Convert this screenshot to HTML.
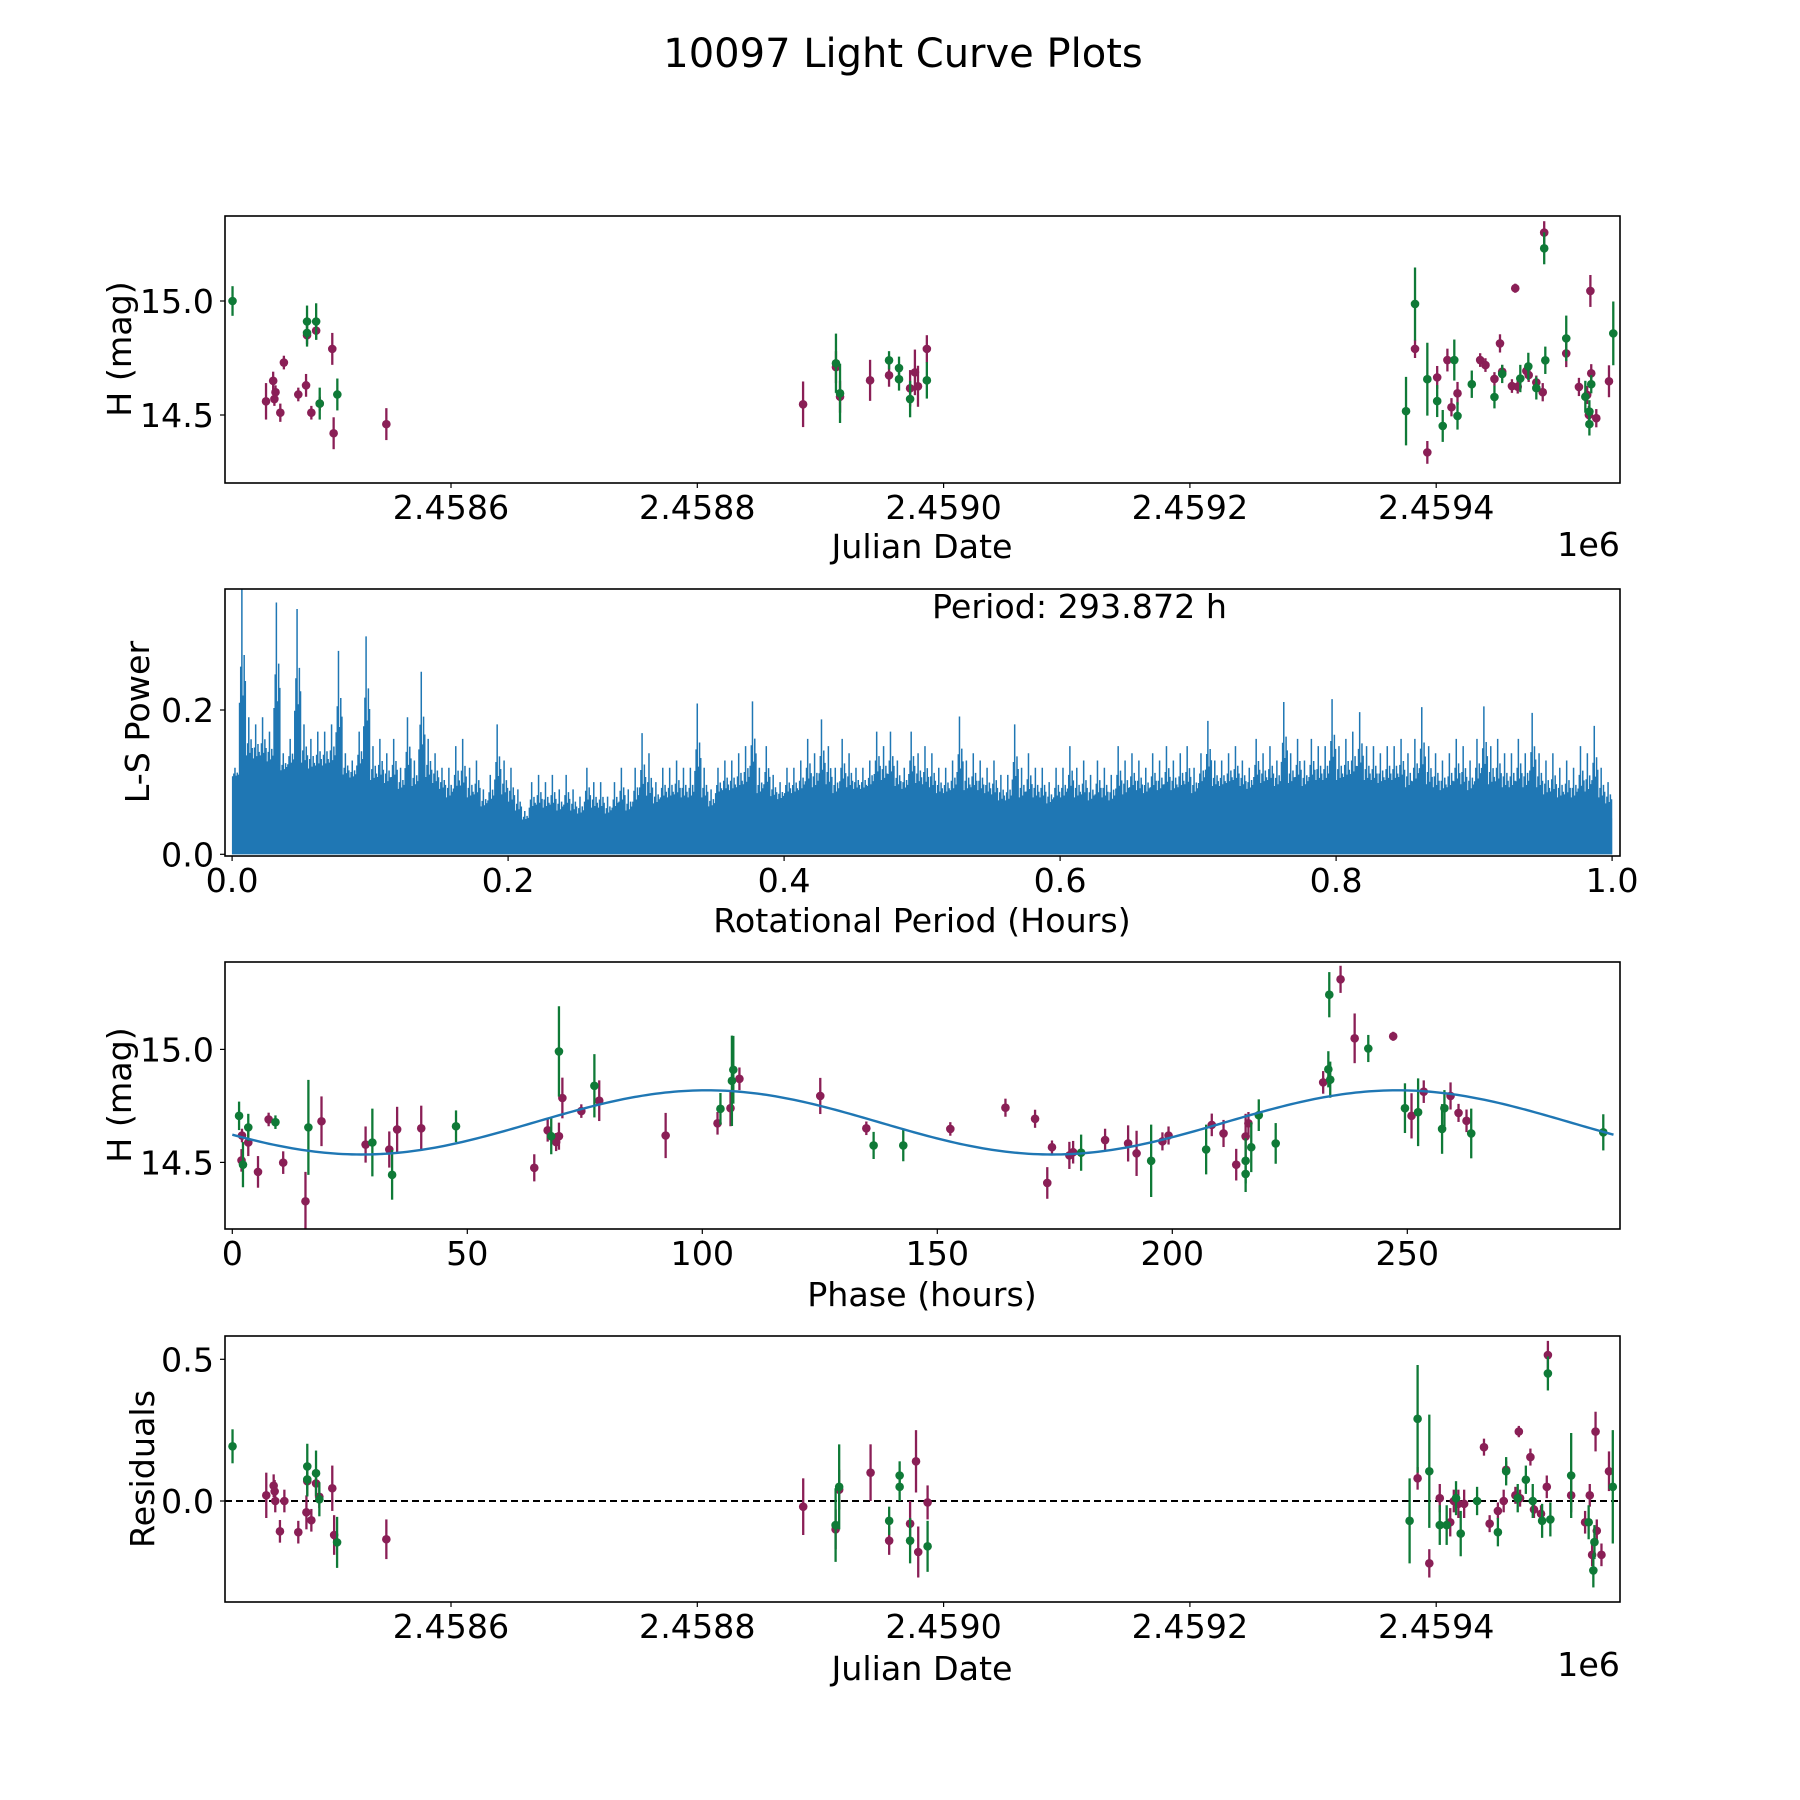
<!DOCTYPE html>
<html><head><meta charset="utf-8"><style>
html,body{margin:0;padding:0;background:#fff}
svg{display:block;font-family:"DejaVu Sans","Liberation Sans",sans-serif}
</style></head><body>
<svg id="fig" xmlns="http://www.w3.org/2000/svg" width="1800" height="1800" viewBox="0 0 1800 1800">
<rect width="1800" height="1800" fill="#fff"/>
<text x="903" y="67" font-size="40" text-anchor="middle">10097 Light Curve Plots</text>
<defs>
<clipPath id="c1"><rect x="225" y="216" width="1395" height="267"/></clipPath>
<clipPath id="c2"><rect x="225" y="589" width="1395" height="267"/></clipPath>
<clipPath id="c3"><rect x="225" y="962" width="1395" height="267"/></clipPath>
<clipPath id="c4"><rect x="225" y="1336" width="1395" height="266"/></clipPath>
</defs>
</svg>
<script>
// ---------- DATA ----------
const JD0 = 2458600; // offsets below are days since JD0
// Panel 1: light curve (green filter)
const gDay = [-177.4,-116.9,-116.9,-109.5,-106.6,-92.3,312.6,315.9,355.7,363.8,363.8,372.8,386.4,775.5,782.8,792.8,800.8,805.3,814.7,817.3,828.9,847.3,853.6,868.3,874.8,881.3,887.7,888.6,905.6,921.1,924.4,924.4,925.9,943.8];
const gMag = [15.0,14.86,14.91,14.91,14.55,14.59,14.727,14.595,14.74,14.706,14.657,14.57,14.652,14.517,14.987,14.657,14.561,14.452,14.741,14.496,14.635,14.579,14.68,14.66,14.713,14.618,15.231,14.74,14.836,14.58,14.515,14.46,14.635,14.858];
const gErr = [0.065,0.06,0.07,0.08,0.07,0.07,0.13,0.13,0.04,0.05,0.05,0.08,0.08,0.15,0.16,0.16,0.07,0.07,0.09,0.06,0.06,0.05,0.04,0.06,0.06,0.05,0.07,0.06,0.1,0.07,0.05,0.05,0.04,0.14];
// Panel 1: light curve (purple filter)
const pDay = [-150.2,-144.4,-142.5,-143.4,-138.6,-135.7,-124.0,-117.7,-116.9,-113.4,-109.5,-106.6,-96.4,-95.3,-52.5,285.9,312.6,315.9,340.3,355.7,372.8,376.7,379.2,386.4,782.8,792.8,800.8,809.1,812.4,817.3,835.7,840.0,847.3,851.8,853.6,861.5,864.2,866.2,873.2,875.1,881.3,886.5,887.7,905.6,915.9,922.6,924.0,925.2,925.9,930.0,940.3];
const pMag = [14.56,14.65,14.60,14.57,14.51,14.73,14.59,14.63,14.85,14.51,14.87,14.55,14.79,14.42,14.46,14.547,14.71,14.58,14.652,14.674,14.617,14.687,14.626,14.79,14.79,14.336,14.665,14.741,14.534,14.595,14.741,14.719,14.658,14.814,14.69,14.627,15.056,14.624,14.693,14.675,14.643,14.6,15.30,14.77,14.623,14.588,14.5,15.044,14.683,14.486,14.648];
const pErr = [0.08,0.04,0.03,0.03,0.04,0.03,0.03,0.05,0.04,0.03,0.04,0.03,0.07,0.07,0.07,0.1,0.07,0.07,0.09,0.05,0.08,0.1,0.09,0.06,0.04,0.05,0.05,0.05,0.04,0.05,0.03,0.03,0.03,0.04,0.03,0.03,0.02,0.03,0.03,0.03,0.03,0.04,0.05,0.06,0.04,0.04,0.04,0.07,0.04,0.04,0.07];

// Panel 2: periodogram, max power per 0.005 h bin
const lsPeak = [0.12,0.367,0.19,0.18,0.19,0.17,0.349,0.14,0.16,0.34,0.18,0.16,0.17,0.17,0.18,0.282,0.14,0.13,0.17,0.302,
0.15,0.16,0.14,0.16,0.12,0.19,0.13,0.253,0.16,0.14,0.12,0.12,0.15,0.16,0.12,0.13,0.09,0.11,0.18,0.13,
0.12,0.09,0.06,0.10,0.11,0.10,0.11,0.09,0.11,0.09,0.08,0.12,0.10,0.10,0.08,0.10,0.12,0.09,0.12,0.168,
0.14,0.10,0.12,0.12,0.13,0.12,0.12,0.209,0.12,0.09,0.12,0.13,0.13,0.14,0.15,0.212,0.12,0.15,0.11,0.10,
0.12,0.12,0.13,0.16,0.14,0.187,0.15,0.12,0.16,0.14,0.12,0.12,0.13,0.17,0.15,0.17,0.13,0.12,0.17,0.14,
0.15,0.14,0.12,0.12,0.13,0.191,0.13,0.14,0.13,0.12,0.13,0.11,0.11,0.18,0.12,0.14,0.12,0.12,0.10,0.12,
0.12,0.15,0.12,0.13,0.11,0.13,0.12,0.11,0.15,0.13,0.14,0.13,0.12,0.14,0.13,0.15,0.13,0.14,0.15,0.12,
0.14,0.185,0.13,0.13,0.14,0.15,0.13,0.12,0.16,0.14,0.15,0.13,0.211,0.14,0.16,0.13,0.16,0.15,0.15,0.215,
0.15,0.16,0.17,0.197,0.15,0.15,0.14,0.15,0.15,0.16,0.14,0.16,0.204,0.15,0.14,0.13,0.14,0.16,0.15,0.13,
0.16,0.205,0.15,0.16,0.14,0.14,0.16,0.14,0.196,0.14,0.13,0.14,0.12,0.13,0.12,0.15,0.14,0.178,0.12,0.10];
// solid floor power per 0.05 h
const lsBase = [0.10,0.09,0.07,0.05,0.04,0.04,0.05,0.06,0.06,0.07,0.06,0.05,0.05,0.06,0.07,0.07,0.07,0.06,0.06,0.05];
const periodHours = 293.872;

// Panel 3: phase folded
const gPhase = [1.44,2.27,3.4,9.18,16.19,29.8,34.0,47.6,67.86,69.5,77.04,103.86,106.3,106.6,136.45,142.76,180.6,195.5,207.2,215.6,215.6,216.8,218.4,222.0,233.2,233.6,233.4,241.7,249.5,252.3,257.4,257.9,263.6,291.7];
const gPhMag = [14.706,14.49,14.655,14.678,14.655,14.588,14.445,14.66,14.616,14.991,14.839,14.737,14.861,14.91,14.575,14.575,14.543,14.507,14.557,14.507,14.449,14.567,14.709,14.584,14.912,14.866,15.242,15.004,14.74,14.722,14.648,14.74,14.628,14.633];
const gPhErr = [0.063,0.1,0.06,0.03,0.21,0.15,0.11,0.07,0.08,0.2,0.14,0.07,0.2,0.15,0.06,0.07,0.08,0.16,0.11,0.1,0.08,0.11,0.07,0.09,0.08,0.08,0.1,0.06,0.11,0.15,0.11,0.08,0.11,0.08];
const pPhase = [2.06,1.96,3.4,5.47,7.73,10.83,15.57,18.98,28.36,33.4,35.07,40.2,64.25,67.1,68.9,69.5,70.23,74.26,78.07,92.2,103.24,106.0,107.9,125.1,134.9,152.77,164.5,170.8,173.4,174.4,178.1,178.9,185.7,190.6,192.4,197.9,199.2,208.4,210.9,213.6,215.6,216.2,232.1,235.8,238.8,247.0,250.9,253.5,259.2,260.9,262.6];
const pPhMag = [14.619,14.509,14.588,14.458,14.69,14.499,14.328,14.682,14.579,14.557,14.646,14.651,14.476,14.642,14.59,14.616,14.785,14.727,14.773,14.619,14.673,14.74,14.87,14.794,14.651,14.648,14.742,14.693,14.409,14.567,14.531,14.545,14.599,14.584,14.54,14.593,14.619,14.666,14.628,14.49,14.615,14.673,14.854,15.31,15.049,15.058,14.706,14.813,14.794,14.719,14.684];
const pPhErr = [0.03,0.05,0.06,0.07,0.03,0.05,0.13,0.11,0.08,0.08,0.1,0.1,0.06,0.05,0.04,0.06,0.09,0.03,0.09,0.1,0.05,0.08,0.05,0.08,0.03,0.03,0.04,0.04,0.07,0.03,0.06,0.05,0.05,0.08,0.1,0.04,0.04,0.05,0.06,0.07,0.1,0.05,0.05,0.06,0.11,0.02,0.1,0.05,0.06,0.04,0.05];
const modelMean = 14.677, modelAmp = 0.142, modelPeakPhase = 101;

// Panel 4: residuals
const gResDay = [-177.4,-116.7,-116.7,-109.6,-106.9,-92.5,312.3,315.2,355.8,364.3,364.3,372.8,387.0,778.4,784.9,794.4,802.9,808.5,816.1,819.9,833.2,850.1,856.8,866.2,872.8,878.4,886.0,890.7,892.7,909.6,923.8,927.6,928.5,943.4];
const gRes = [0.193,0.122,0.076,0.098,0.006,-0.146,-0.085,0.05,-0.07,0.09,0.05,-0.14,-0.16,-0.07,0.29,0.105,-0.085,-0.085,0.01,-0.115,0,-0.11,0.105,0.01,0.075,0,-0.07,0.45,-0.065,0.09,-0.075,-0.245,-0.145,0.05];
const gResErr = [0.06,0.08,0.06,0.08,0.06,0.09,0.13,0.15,0.05,0.05,0.05,0.08,0.09,0.15,0.19,0.2,0.07,0.07,0.06,0.08,0.05,0.05,0.05,0.05,0.05,0.06,0.06,0.06,0.06,0.15,0.06,0.06,0.06,0.2];
const pResDay = [-150.0,-144.0,-143.2,-142.7,-138.9,-135.3,-124.0,-117.4,-116.7,-113.4,-109.6,-106.9,-96.4,-94.9,-52.5,286.0,312.3,315.2,340.7,355.8,372.8,377.6,379.4,387.0,784.9,794.4,802.9,811.4,814.3,818.0,822.7,838.8,843.4,850.1,854.8,856.8,864.3,867.1,868.1,876.5,879.4,885.1,889.8,890.7,909.6,920.9,924.7,926.6,929.4,930.4,934.2,940.3];
const pRes = [0.02,0.054,0.034,0,-0.107,0,-0.11,-0.04,0.07,-0.068,0.062,0.015,0.045,-0.12,-0.135,-0.02,-0.1,0.04,0.1,-0.14,-0.08,0.14,-0.18,-0.005,0.08,-0.22,0.01,-0.075,0,-0.01,-0.01,0.19,-0.08,-0.035,0,0.11,0.02,0.245,0.01,0.155,-0.03,-0.045,0.05,0.515,0.02,-0.075,0.02,-0.19,0.245,-0.105,-0.19,0.105];
const pResErr = [0.08,0.04,0.04,0.04,0.04,0.04,0.04,0.06,0.05,0.04,0.05,0.04,0.08,0.07,0.07,0.1,0.07,0.07,0.1,0.05,0.08,0.11,0.09,0.06,0.04,0.05,0.05,0.05,0.04,0.05,0.05,0.03,0.03,0.03,0.04,0.03,0.03,0.02,0.03,0.03,0.03,0.03,0.04,0.05,0.06,0.04,0.04,0.04,0.07,0.04,0.04,0.07];

// tick values
const jdTicks = [2458600,2458800,2459000,2459200,2459400];
const jdTickLabels = ["2.4586","2.4588","2.4590","2.4592","2.4594"];
const magTicks = [14.5,15.0];
const magTickLabels = ["14.5","15.0"];
const lsXTicks = [0,0.2,0.4,0.6,0.8,1.0];
const lsXTickLabels = ["0.0","0.2","0.4","0.6","0.8","1.0"];
const lsYTicks = [0,0.2];
const lsYTickLabels = ["0.0","0.2"];
const phTicks = [0,50,100,150,200,250];
const phTickLabels = ["0","50","100","150","200","250"];
const resTicks = [0,0.5];
const resTickLabels = ["0.0","0.5"];

// ---------- RENDER ----------
const NS = "http://www.w3.org/2000/svg";
const svg = document.getElementById('fig');
const GREEN = "#0f7a37", PURPLE = "#8a1f56", BLUE = "#1f77b4";
const L = 225, R = 1620;
function mk(tag, attrs, parent){ const e = document.createElementNS(NS, tag); for (const k in attrs) e.setAttribute(k, attrs[k]); (parent||svg).appendChild(e); return e; }

// axis functions
const xJD = d => 451 + d*1.2315;            // d = days since JD0
const xJDabs = jd => xJD(jd - JD0);
const y1 = m => 301 + (15 - m)*228;
const xLS = p => 232.1 + p*1380;
const y2 = v => 854.3 - v*721.5;
const xPh = p => 232.3 + p*4.7;
const y3 = m => 1049.4 + (15 - m)*226;
const y4 = r => 1501 - r*283.4;

function frame(top, bot, name){
  const r = mk('rect', {x:L, y:top, width:R-L, height:bot-top, fill:'none', stroke:'#000', 'stroke-width':1.6});
  
  
}
function xTicks(vals, labels, fx, bot, name){
  vals.forEach((v,i)=>{
    const x = fx(v);
    const t = mk('line', {x1:x, x2:x, y1:bot, y2:bot+5, stroke:'#000', 'stroke-width':1.2});
    
    
    const tx = mk('text', {x:x, y:bot+36, 'font-size':33.3, 'text-anchor':'middle'});
    tx.textContent = labels[i];
    
    
  });
}
function yTicks(vals, labels, fy, name){
  vals.forEach((v,i)=>{
    const y = fy(v);
    const t = mk('line', {x1:L-5, x2:L, y1:y, y2:y, stroke:'#000', 'stroke-width':1.2});
    
    
    const tx = mk('text', {x:214, y:y+12, 'font-size':33.3, 'text-anchor':'end'});
    tx.textContent = labels[i];
    
    
  });
}
function label(txt, x, y, rot, name){
  const t = mk('text', {x:x, y:y, 'font-size':33.3, 'text-anchor':'middle'});
  if (rot) t.setAttribute('transform', `rotate(-90 ${x} ${y})`);
  t.textContent = txt;
  
  
}
function errPoints(g, xs, ys, es, fx, fy, color, name){
  xs.forEach((xv,i)=>{
    const x = fx(xv), y = fy(ys[i]);
    const b = mk('line', {x1:x, x2:x, y1:fy(ys[i]-es[i]), y2:fy(ys[i]+es[i]), stroke:color, 'stroke-width':2.3}, g);
    
    
    const c = mk('circle', {cx:x, cy:y, r:4.3, fill:color}, g);
    
    
  });
}

// Panel 1
const g1 = mk('g', {'clip-path':'url(#c1)'});


errPoints(g1, pDay, pMag, pErr, xJD, y1, PURPLE, 'purple-filter');
errPoints(g1, gDay, gMag, gErr, xJD, y1, GREEN, 'green-filter');
frame(216, 483, 'light-curve-axes');
xTicks(jdTicks, jdTickLabels, xJDabs, 483, 'julian-date-x');
yTicks(magTicks, magTickLabels, y1, 'magnitude-y');
label('Julian Date', 922, 558, false, 'x-axis-title-julian-date');
label('H (mag)', 131, 349, true, 'y-axis-title-magnitude');
const o1 = mk('text', {x:1620, y:556, 'font-size':33.3, 'text-anchor':'end'}); o1.textContent = '1e6';



// Panel 2 periodogram
const g2 = mk('g', {'clip-path':'url(#c2)'});


const binW = 1/lsPeak.length;
let poly = `M${xLS(0)},${y2(0)}`;
lsBase.forEach((b,i)=>{ poly += ` L${xLS(i*0.05)},${y2(b)} L${xLS((i+1)*0.05)},${y2(b)}`; });
poly += ` L${xLS(1)},${y2(0)} Z`;
const fillP = mk('path', {d:poly, fill:BLUE}, g2);


const frac = [0.55,0.8,1,0.6,0.88,0.7];
let d = '';
lsPeak.forEach((pk,i)=>{
  const base = lsBase[Math.min(lsBase.length-1, Math.floor(i*binW/0.05))];
  frac.forEach((f,k)=>{
    const p = (i + (k+0.5)/frac.length)*binW;
    const v = base + (pk-base)*(k===2?1:f*0.75);
    d += `M${xLS(p).toFixed(2)},${y2(0)} L${xLS(p).toFixed(2)},${y2(v).toFixed(2)} `;
  });
});
const spikes = mk('path', {d:d, stroke:BLUE, 'stroke-width':1.5, fill:'none'}, g2);


frame(589, 856, 'periodogram-axes');
xTicks(lsXTicks, lsXTickLabels, xLS, 856, 'period-x');
yTicks(lsYTicks, lsYTickLabels, y2, 'power-y');
label('Rotational Period (Hours)', 922, 932, false, 'x-axis-title-rotational-period');
label('L-S Power', 149, 722, true, 'y-axis-title-ls-power');
const pt = mk('text', {x:932, y:618, 'font-size':33.3}); pt.textContent = 'Period: ' + periodHours.toFixed(3) + ' h';



// Panel 3 phase-folded
const g3 = mk('g', {'clip-path':'url(#c3)'});


errPoints(g3, pPhase, pPhMag, pPhErr, xPh, y3, PURPLE, 'purple-phase');
errPoints(g3, gPhase, gPhMag, gPhErr, xPh, y3, GREEN, 'green-phase');
let md = '';
for (let k=0;k<=300;k++){
  const ph = periodHours*k/300;
  const m = modelMean + modelAmp*Math.cos(4*Math.PI*(ph-modelPeakPhase)/periodHours);
  md += (k?' L':'M') + xPh(ph).toFixed(2) + ',' + y3(m).toFixed(2);
}
const mp = mk('path', {d:md, stroke:BLUE, 'stroke-width':2.4, fill:'none'}, g3);


frame(962, 1229, 'phase-axes');
xTicks(phTicks, phTickLabels, xPh, 1229, 'phase-x');
yTicks(magTicks, magTickLabels, y3, 'phase-magnitude-y');
label('Phase (hours)', 922, 1306, false, 'x-axis-title-phase');
label('H (mag)', 131, 1095, true, 'y-axis-title-phase-magnitude');

// Panel 4 residuals
const g4 = mk('g', {'clip-path':'url(#c4)'});


const zl = mk('line', {x1:L, x2:R, y1:y4(0), y2:y4(0), stroke:'#000', 'stroke-width':2, 'stroke-dasharray':'7,4'}, g4);


errPoints(g4, pResDay, pRes, pResErr, xJD, y4, PURPLE, 'purple-residual');
errPoints(g4, gResDay, gRes, gResErr, xJD, y4, GREEN, 'green-residual');
frame(1336, 1602, 'residuals-axes');
xTicks(jdTicks, jdTickLabels, xJDabs, 1602, 'residual-julian-date-x');
yTicks(resTicks, resTickLabels, y4, 'residual-y');
label('Julian Date', 922, 1680, false, 'x-axis-title-residual-julian-date');
label('Residuals', 154, 1469, true, 'y-axis-title-residuals');
const o4 = mk('text', {x:1620, y:1676, 'font-size':33.3, 'text-anchor':'end'}); o4.textContent = '1e6';


</script>
</body></html>
